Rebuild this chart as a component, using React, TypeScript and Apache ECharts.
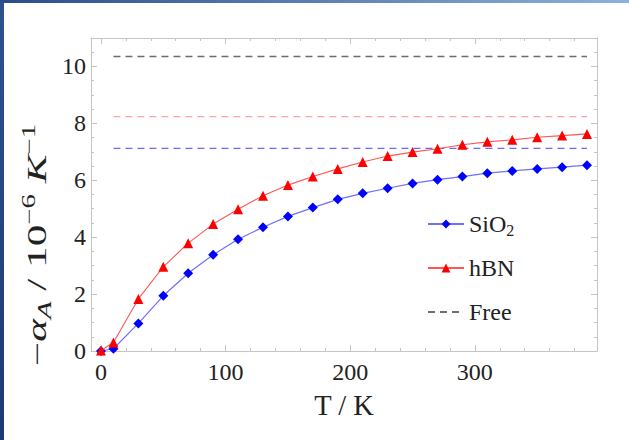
import React, { useEffect, useRef } from 'react';
import * as echarts from 'echarts';

const temps = [0, 10, 30, 50, 70, 90, 110, 130, 150, 170, 190, 210, 230, 250, 270, 290, 310, 330, 350, 370, 390];
const hbnValues = [0.02, 0.3, 1.83, 2.96, 3.79, 4.46, 4.98, 5.46, 5.83, 6.13, 6.4, 6.64, 6.85, 6.99, 7.11, 7.25, 7.35, 7.42, 7.51, 7.57, 7.63];
const sio2Values = [0, 0.08, 0.97, 1.94, 2.73, 3.38, 3.93, 4.35, 4.73, 5.04, 5.33, 5.54, 5.72, 5.89, 6.02, 6.13, 6.25, 6.33, 6.4, 6.46, 6.53];
const freeLimits = { free: 10.35, hbn: 8.24, sio2: 7.12 };
const limitRange = [10, 390];

const xMajorTicks = [0, 100, 200, 300];
const xMinorTicks = [20, 40, 60, 80, 120, 140, 160, 180, 220, 240, 260, 280, 320, 340, 360, 380];
const yMajorTicks = [0, 2, 4, 6, 8, 10];
const yMinorTicks = [0.5, 1, 1.5, 2.5, 3, 3.5, 4.5, 5, 5.5, 6.5, 7, 7.5, 8.5, 9, 9.5, 10.5];

const X_MIN = -8;
const X_MAX = 398;
const Y_MIN = 0;
const Y_MAX = 11;

const SERIF = "'Liberation Serif', 'Times New Roman', 'DejaVu Serif', serif";
const FRAME = '#c4c4c4';

function xAxis(position: 'bottom' | 'top', ticks: number[], len: number, line: boolean, labels: boolean) {
  return {
    type: 'value',
    position,
    offset: 0,
    min: X_MIN,
    max: X_MAX,
    axisLine: { show: line, onZero: false, lineStyle: { color: FRAME, width: 1 } },
    axisTick: { show: true, inside: true, length: len, customValues: ticks, lineStyle: { color: FRAME, width: 1 } },
    axisLabel: labels
      ? { show: true, customValues: ticks, fontSize: 24, fontFamily: SERIF, color: '#222', margin: 9 }
      : { show: false },
    splitLine: { show: false },
  };
}

function yAxis(position: 'left' | 'right', ticks: number[], len: number, line: boolean, labels: boolean) {
  return {
    type: 'value',
    position,
    offset: 0,
    min: Y_MIN,
    max: Y_MAX,
    axisLine: { show: line, onZero: false, lineStyle: { color: FRAME, width: 1 } },
    axisTick: { show: true, inside: true, length: len, customValues: ticks, lineStyle: { color: FRAME, width: 1 } },
    axisLabel: labels
      ? { show: true, customValues: ticks, fontSize: 24, fontFamily: SERIF, color: '#222', margin: 5 }
      : { show: false },
    splitLine: { show: false },
  };
}

function limitSeries(name: string, value: number, color: string) {
  return {
    name,
    type: 'line',
    data: limitRange.map((t) => [t, value]),
    showSymbol: false,
    symbol: 'none',
    lineStyle: { color, width: 1.3, type: [7, 5] },
    itemStyle: { color },
    z: 1,
  };
}

export default function App() {
  const ref = useRef<HTMLDivElement>(null);
  useEffect(() => {
    const chart = echarts.init(ref.current!, null, { renderer: 'svg' });
    const option = {
      animation: false,
      backgroundColor: '#ffffff',
      grid: { left: 91, right: 32, top: 38, bottom: 89, containLabel: false },
      xAxis: [
        xAxis('bottom', xMajorTicks, 6, true, true),
        xAxis('bottom', xMinorTicks, 3, false, false),
        xAxis('top', xMajorTicks, 6, true, false),
        xAxis('top', xMinorTicks, 3, false, false),
      ],
      yAxis: [
        yAxis('left', yMajorTicks, 6, true, true),
        yAxis('left', yMinorTicks, 3, false, false),
        yAxis('right', yMajorTicks, 6, true, false),
        yAxis('right', yMinorTicks, 3, false, false),
      ],
      legend: {
        data: ['SiO2', 'hBN', { name: 'Free', itemStyle: { opacity: 0 } }],
        orient: 'vertical',
        left: 427,
        top: 210,
        padding: 0,
        itemWidth: 36,
        itemHeight: 11,
        itemGap: 16,
        formatter: (n: string) => (n === 'SiO2' ? 'SiO{sub|2}' : n),
        textStyle: {
          fontSize: 24,
          fontFamily: SERIF,
          color: '#222',
          lineHeight: 28,
          rich: {
            sub: { fontSize: 16, lineHeight: 16, verticalAlign: 'bottom', fontFamily: SERIF, color: '#222' },
          },
        },
      },
      series: [
        limitSeries('Free', freeLimits.free, '#6e6e6e'),
        limitSeries('hBN free', freeLimits.hbn, '#ffa3a3'),
        limitSeries('SiO2 free', freeLimits.sio2, '#6a6aff'),
        {
          name: 'SiO2',
          type: 'line',
          data: temps.map((t, i) => [t, sio2Values[i]]),
          symbol: 'diamond',
          symbolSize: 10,
          lineStyle: { color: '#7070ff', width: 1.2 },
          itemStyle: { color: '#0000ff' },
          z: 3,
        },
        {
          name: 'hBN',
          type: 'line',
          data: temps.map((t, i) => [t, hbnValues[i]]),
          symbol: 'triangle',
          symbolSize: 10,
          lineStyle: { color: '#ff5555', width: 1.1 },
          itemStyle: { color: '#ff0000' },
          z: 4,
        },
      ],
      graphic: [
        {
          type: 'rect',
          shape: { x: 0, y: 0, width: 4, height: 440 },
          style: {
            fill: new echarts.graphic.LinearGradient(0, 0, 0, 1, [
              { offset: 0, color: '#2e5291' },
              { offset: 1, color: '#1d3a74' },
            ]),
          },
          z: 100,
        },
        {
          type: 'rect',
          shape: { x: 0, y: 0, width: 629, height: 3 },
          style: {
            fill: new echarts.graphic.LinearGradient(0, 0, 1, 0, [
              { offset: 0, color: '#2b4c88' },
              { offset: 1, color: '#8fb1dc' },
            ]),
          },
          z: 100,
        },
        {
          type: 'text',
          x: 344,
          y: 405,
          style: {
            text: 'T / K',
            fontSize: 28.5,
            fontFamily: SERIF,
            fill: '#222',
            align: 'center',
            verticalAlign: 'middle',
          },
        },
        {
          type: 'text',
          x: 37,
          y: 245,
          rotation: Math.PI / 2,
          scaleX: 1.6,
          scaleY: 1,
          style: {
            text: '\u2212{i|\u03b1}{isub|A} / 10{sup|\u22126} {i|K}{sup|\u22121}',
            fontSize: 27,
            lineHeight: 34,
            fontFamily: SERIF,
            fill: '#222',
            align: 'center',
            verticalAlign: 'middle',
            rich: {
              i: { fontStyle: 'italic', fontSize: 27, fontFamily: SERIF, fill: '#222' },
              isub: { fontStyle: 'italic', fontSize: 18, lineHeight: 18, verticalAlign: 'bottom', fontFamily: SERIF, fill: '#222' },
              sup: { fontSize: 18, lineHeight: 18, verticalAlign: 'top', fontFamily: SERIF, fill: '#222' },
            },
          },
        },
      ],
    };
    chart.setOption(option as any);
    return () => chart.dispose();
  }, []);
  return (
    <div
      ref={ref}
      style={{ position: 'absolute', left: 0, top: 0, width: 629, height: 440, background: '#fff' }}
    />
  );
}
